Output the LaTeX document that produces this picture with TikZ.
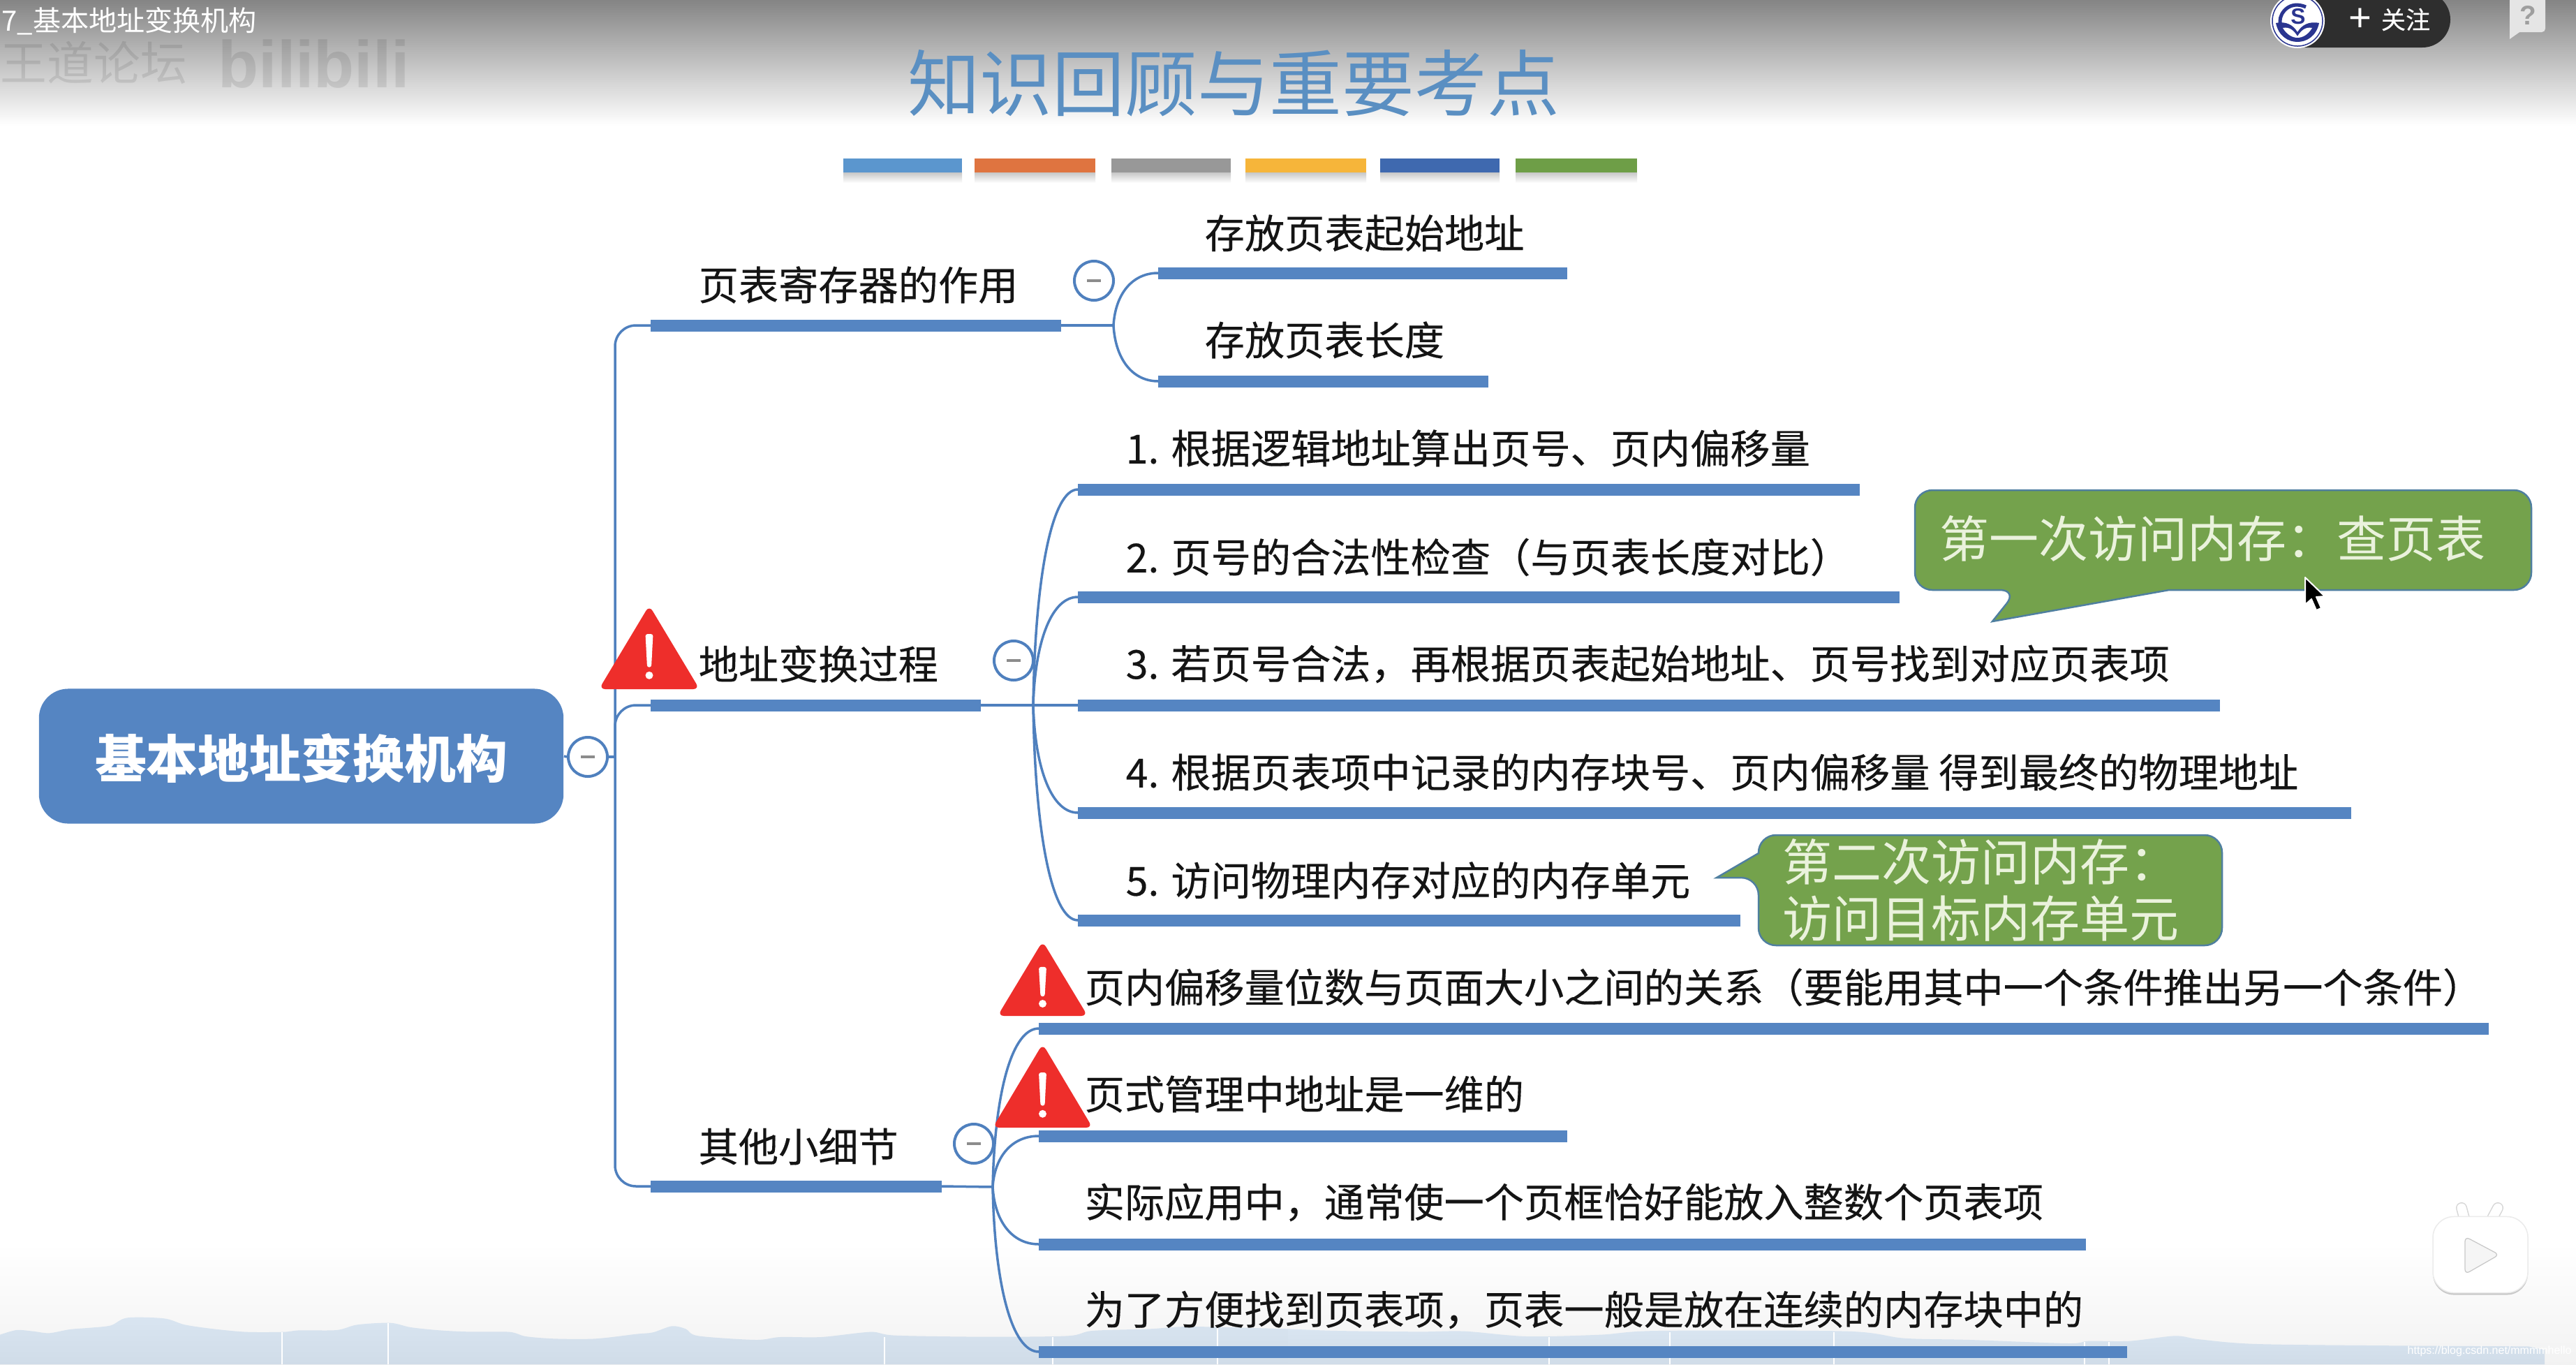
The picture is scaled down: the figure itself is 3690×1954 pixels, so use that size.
\documentclass[tikz,border=0pt]{standalone}
\usepackage{fontspec}
\setmainfont{Noto Sans CJK SC}
\setsansfont{Liberation Sans}
\newfontfamily\medfont[FakeBold=0.25]{Noto Sans CJK SC}
\usetikzlibrary{shadows,calc}
\definecolor{mmblue}{HTML}{5585C2}
\definecolor{connblue}{HTML}{4F80BE}
\definecolor{warnred}{HTML}{EE2E2B}
\definecolor{calloutgreen}{HTML}{74A24C}
\definecolor{calloutline}{HTML}{4F7F9F}
\definecolor{calloutink}{HTML}{EAF2DC}
\definecolor{titleblue}{HTML}{5A8FC2}
\definecolor{hill}{HTML}{D9E5F1}
\definecolor{hilldark}{HTML}{D0DCE8}
\definecolor{navy}{HTML}{2A3590}
\tikzset{
  conn/.style={draw=connblue,line width=0.035cm},
  ulbarsty/.style={fill=mmblue,draw=none,inner sep=0pt,outer sep=0pt,minimum height=0.17cm,anchor=west},
  lbl/.style={anchor=west,inner sep=0pt,text=black!92,font=\medfont\fontsize{16.27}{20}\selectfont},
  colbox/.style={draw=connblue,line width=0.04cm,fill=white,circle,inner sep=0pt,minimum size=0.56cm},
  calloutsty/.style={draw=calloutline,line width=0.025cm,fill=calloutgreen},
  callouttext/.style={anchor=west,inner sep=0pt,text=calloutink,font=\fontsize{20.2}{24}\selectfont},
}
\newcommand{\ulbar}[4]{\node[ulbarsty,minimum width={(#4-#2)*0.01cm}] (#1) at (#2,#3) {};}
\newcommand{\minusmark}[1]{\draw[draw=black!45,line width=0.035cm] ($(#1.center)+(-10,0)$) -- ($(#1.center)+(10,0)$);}
\newcommand{\forkto}[2]{\draw[conn] (#1) .. controls ($(#1)!0.6!($(#1 |- #2.west)!0.07!(#2.west)$)$) and ($(#1 |- #2.west)!0.42!(#2.west)$) .. (#2.west);}
\newcommand{\warnsign}[4]{%
  \pgfmathsetmacro{\wcx}{(#1+#2)/2}
  \pgfmathsetmacro{\wh}{#4-#3}
  \fill[warnred,rounded corners=0.09cm] (\wcx,#3-4) -- (#2+6,#4) -- (#1-6,#4) -- cycle;
  \fill[white,rounded corners=0.03cm] (\wcx-5.5,#3+0.32*\wh) -- (\wcx+5.5,#3+0.32*\wh) -- (\wcx+3,#3+0.73*\wh) -- (\wcx-3,#3+0.73*\wh) -- cycle;
  \fill[white] (\wcx,#3+0.83*\wh) circle[radius=0.055cm];
}
\begin{document}
\begin{tikzpicture}[x=0.01cm,y=-0.01cm]
\useasboundingbox (0,0) rectangle (3690,1954);
\clip (0,0) rectangle (3690,1954);
\fill[white] (0,0) rectangle (3690,1954);
% top and bottom video gradients
\shade[top color=black!48,middle color=black!11,bottom color=white] (0,0) rectangle (3690,180);
\shade[top color=white,bottom color=black!5] (0,1780) rectangle (3690,1954);
% landscape band
\begin{scope}[shift={(0,1800)},xscale=1.1765,yscale=0.3333]
\shade[top color=hill,bottom color=hilldark] (0,462) -- (0,335) -- plot[smooth,tension=0.5] coordinates {(0,335)(20,315)(40,320)(60,328)(85,312)(110,305)(135,295)(155,262)(200,265)(225,292)(260,310)(300,323)(345,323)(365,316)(410,315)(435,292)(475,284)(500,303)(535,316)(570,322)(620,323)(640,342)(675,352)(725,352)(775,332)(795,325)(818,298)(835,310)(850,340)(920,357)(950,345)(1000,345)(1060,323)(1090,338)(1200,344)(1300,340)(1330,318)(1400,310)(1450,300)(1568,310)} -- (1568,462) -- cycle;
\end{scope}
\begin{scope}[shift={(1845,1800)},xscale=1.1765,yscale=0.3333]
\shade[top color=hill,bottom color=hilldark] (0,462) -- (0,310) -- plot[smooth,tension=0.5] coordinates {(0,310)(60,318)(160,322)(215,320)(290,342)(380,335)(450,318)(680,320)(750,350)(830,357)(950,372)(975,362)(1025,362)(1080,340)(1110,355)(1180,375)(1350,382)(1510,385)} -- (1530,400) -- (1530,462) -- (0,462) -- cycle;
\end{scope}
\foreach \lx/\ly in {404/1908,556/1895,1267/1915,1508/1915,1744/1900,2219/1915,2392/1908,2627/1908,2986/1922,3021/1922}
  \draw[white,line width=0.015cm] (\lx,\ly) -- (\lx,1954);
% watermarks
\node[anchor=west,inner sep=0pt,text=black,opacity=0.09,font=\fontsize{19}{22}\selectfont] (wma) at (0,90) {王道论坛};
\node[anchor=west,inner sep=0pt,text=black,opacity=0.09,font=\sffamily\bfseries\fontsize{27}{30}\selectfont] (wmb) at (312,92) {bilibili};
\node[anchor=west,inner sep=0pt,text=white,font=\fontsize{11.4}{14}\selectfont] (vtitle) at (2,30) {7\_基本地址变换机构};
% follow button
\fill[black!82] (3290,-12) [rounded corners=0.4cm] -- (3510,-12) -- (3510,68) [sharp corners] -- (3290,68) -- cycle;
\fill[white] (3291,30) circle[radius=0.39cm];
\draw[draw=navy,line width=0.015cm] (3291,30) circle[radius=0.36cm];
\draw[draw=navy,line width=0.05cm] (3303,10) .. controls (3280,0) and (3266,18) .. (3266,30) .. controls (3266,36) and (3268,40) .. (3270,42);
\fill[navy] (3260,33) .. controls (3275,30) and (3285,36) .. (3291,46) .. controls (3297,36) and (3307,30) .. (3322,33) .. controls (3318,52) and (3304,60) .. (3291,60) .. controls (3278,60) and (3264,52) .. (3260,33) -- cycle;
\fill[white] (3270,40) .. controls (3280,38) and (3286,44) .. (3291,52) .. controls (3296,44) and (3302,38) .. (3312,40) .. controls (3306,50) and (3298,54) .. (3291,54) .. controls (3284,54) and (3276,50) .. (3270,40) -- cycle;
\node[inner sep=0pt,text=navy,font=\sffamily\bfseries\fontsize{9}{10}\selectfont] (avs) at (3292,24) {S};
\node[inner sep=0pt,text=white,font=\sffamily\fontsize{16}{17}\selectfont] (plus) at (3381,28) {+};
\node[inner sep=0pt,text=white,font=\medfont\fontsize{10}{12}\selectfont] (follow) at (3446,28) {关注};
% help bubble
\fill[black!10,rounded corners=0.05cm] (3595,-10) rectangle (3646,46);
\fill[black!10] (3595,38) -- (3595,56) -- (3612,44) -- cycle;
\node[inner sep=0pt,text=black!38,font=\sffamily\bfseries\fontsize{11}{12}\selectfont] (help) at (3621,22) {?};
% title
\node[inner sep=0pt,text=titleblue,font=\fontsize{29.5}{34}\selectfont] (title) at (1767,119) {知识回顾与重要考点};
\foreach \sa/\sb/\sc in {1208/1378/5B96CE,1396/1569/DF7440,1592/1763/989898,1784/1957/F6B53A,1977/2148/3F69AF,2171/2345/6E9E47}{
  \shade[top color=black!22,bottom color=white] (\sa,247) rectangle (\sb,262);
  \definecolor{swc}{HTML}{\sc}
  \fill[swc] (\sa,227) rectangle (\sb,247);
}
% root
\node[fill=mmblue,draw=none,rounded corners=0.42cm,inner sep=0pt,minimum width=7.51cm,minimum height=1.93cm,text=white,font=\bfseries\fontsize{21}{24}\selectfont] (root) at (431.5,1083) {\raisebox{-0.31cm}[0pt][0pt]{基本地址变换机构}};
% branches
\coordinate (tk) at (881,1084);
\ulbar{b1}{932}{466}{1520}
\ulbar{b2}{932}{1010}{1405}
\ulbar{b3}{932}{1699}{1349}
\ulbar{a1}{1659}{391}{2245}
\ulbar{a2}{1659}{546}{2132}
\ulbar{c1}{1544}{701}{2664}
\ulbar{c2}{1544}{855}{2721}
\ulbar{c3}{1544}{1010}{3180}
\ulbar{c4}{1544}{1164}{3368}
\ulbar{c5}{1544}{1318}{2493}
\ulbar{d1}{1488}{1473}{3565}
\ulbar{d2}{1488}{1627}{2245}
\ulbar{d3}{1488}{1782}{2988}
\ulbar{d4}{1488}{1936}{3047}
\coordinate (f1) at (1595,466);
\coordinate (f2) at (1480,1010);
\coordinate (f3) at (1422,1700);
\node[colbox] (k0) at (842,1084) {};
\node[colbox] (k1) at (1567,402) {};
\node[colbox] (k2) at (1452,946) {};
\node[colbox] (k3) at (1395,1638) {};
% connectors
\draw[conn] (root.east) -- (k0.west);
\draw[conn] (k0.east) -- (tk);
\draw[conn,rounded corners=0.3cm] (b1.west) -- (b1.west -| tk) -- (b3.west -| tk) -- (b3.west);
\draw[conn,rounded corners=0.3cm] (b2.west) -| (tk);
\draw[conn] (b1.east) -- (f1);
\forkto{f1}{a1}
\forkto{f1}{a2}
\draw[conn] (b2.east) -- (c3.west);
\forkto{f2}{c1}
\forkto{f2}{c2}
\forkto{f2}{c4}
\forkto{f2}{c5}
\draw[conn] (b3.east) -- (f3);
\forkto{f3}{d1}
\forkto{f3}{d2}
\forkto{f3}{d3}
\forkto{f3}{d4}
\foreach \k in {k0,k1,k2,k3}{\minusmark{\k}}
% warnings
\warnsign{864}{996}{871}{987}
\warnsign{1435}{1552}{1352}{1455}
\warnsign{1428}{1559}{1499}{1615}
% labels
\node[lbl] (tb1) at (1000,408) {页表寄存器的作用};
\node[lbl] (tb2) at (1000,951) {地址变换过程};
\node[lbl] (tb3) at (1000,1642) {其他小细节};
\node[lbl] (ta1) at (1725,334) {存放页表起始地址};
\node[lbl] (ta2) at (1725,487) {存放页表长度};
\node[lbl] (tc1) at (1612,642) {1. 根据逻辑地址算出页号、页内偏移量};
\node[lbl] (tc2) at (1612,798) {2. 页号的合法性检查（与页表长度对比）};
\node[lbl] (tc3) at (1612,951) {3. 若页号合法，再根据页表起始地址、页号找到对应页表项};
\node[lbl] (tc4) at (1612,1106) {4. 根据页表项中记录的内存块号、页内偏移量 得到最终的物理地址};
\node[lbl] (tc5) at (1612,1261) {5. 访问物理内存对应的内存单元};
\node[lbl] (td1) at (1553,1414) {页内偏移量位数与页面大小之间的关系（要能用其中一个条件推出另一个条件）};
\node[lbl] (td2) at (1553,1567) {页式管理中地址是一维的};
\node[lbl] (td3) at (1553,1722) {实际应用中，通常使一个页框恰好能放入整数个页表项};
\node[lbl] (td4) at (1553,1876) {为了方便找到页表项，页表一般是放在连续的内存块中的};
% callouts
\draw[calloutsty,rounded corners=0.25cm] (2890,845) [sharp corners] -- (2854,890) -- (3107,845) [rounded corners=0.25cm] -- (3626,845) -- (3626,702) -- (2743,702) -- (2743,845) -- cycle;
\node[callouttext] (co1) at (2778,771) {第一次访问内存：查页表};
\draw[calloutsty,rounded corners=0.25cm] (2519,1257) [sharp corners] -- (2459,1257) -- (2519,1222) [rounded corners=0.25cm] -- (2519,1196) -- (3183,1196) -- (3183,1354) -- (2519,1354) -- cycle;
\node[callouttext] (co2a) at (2553,1234) {第二次访问内存：};
\node[callouttext] (co2b) at (2553,1316) {访问目标内存单元};
% cursor
\draw[white,fill=black,line width=0.02cm,line join=round] (3302,827) -- (3302,866) -- (3311,858) -- (3318,874) -- (3325,871) -- (3318,855) -- (3330,854) -- cycle;
% tv icon
\draw[black!16,line width=0.16cm,line cap=round] (3530,1745) -- (3526,1730);
\draw[black!16,line width=0.16cm,line cap=round] (3570,1745) -- (3578,1730);
\draw[white,line width=0.13cm,line cap=round] (3530,1745) -- (3526,1730);
\draw[white,line width=0.13cm,line cap=round] (3570,1745) -- (3578,1730);
\node[fill=white,draw=black!8,line width=0.015cm,rounded corners=0.3cm,inner sep=0pt,minimum width=1.36cm,minimum height=1.09cm,drop shadow={opacity=0.4,shadow xshift=0cm,shadow yshift=-0.03cm}] (tv) at (3553,1797) {};
\fill[black!4,rounded corners=0.07cm] (3531,1771) -- (3580,1797) -- (3531,1825) -- cycle;
\draw[black!22,line width=0.012cm,rounded corners=0.07cm] (3531,1771) -- (3580,1797) -- (3531,1825) -- cycle;
% csdn
\node[anchor=west,inner sep=0pt,text=white,font=\sffamily\fontsize{4.55}{6}\selectfont] (csdn) at (3448,1935) {https://blog.csdn.net/mmmmhello};
\end{tikzpicture}
\end{document}
